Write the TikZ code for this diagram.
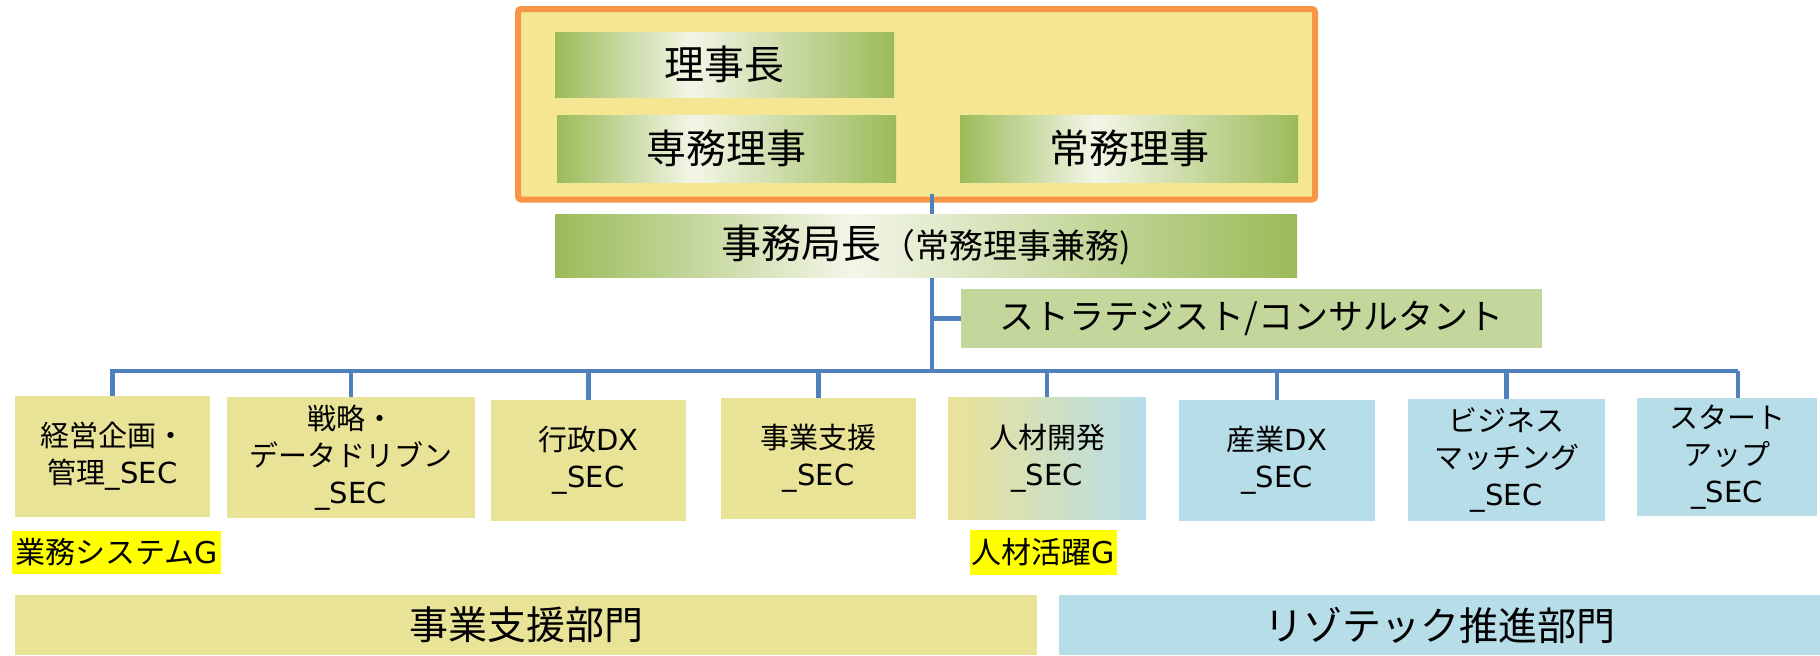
\documentclass[tikz,border=0pt]{standalone}
\usepackage{fontspec}
\setmainfont{Noto Sans CJK JP}
\newfontfamily\lat{DejaVu Sans}
\definecolor{frameY}{HTML}{F5E694}
\definecolor{frameO}{HTML}{F79646}
\definecolor{boxY}{HTML}{E9E397}
\definecolor{boxB}{HTML}{B7DDE8}
\definecolor{stratG}{HTML}{C3D69B}
\definecolor{grn}{HTML}{9BBB59}
\definecolor{gwh}{HTML}{F3F6E8}
\definecolor{lineB}{HTML}{4F81BD}
\definecolor{hiY}{HTML}{FFFF00}
\pgfdeclarehorizontalshading{glow}{100bp}{color(0bp)=(grn); color(25bp)=(grn); color(45bp)=(gwh); color(75bp)=(grn); color(100bp)=(grn)}
\tikzset{
  gbox/.style={shading=glow, inner sep=0pt, font=\fontsize{20}{24}\selectfont},
  secbox/.style={inner sep=0pt, align=center, font=\fontsize{14.5}{18.5}\selectfont},
  ybox/.style={secbox, fill=boxY},
  bbox/.style={secbox, fill=boxB},
  hilite/.style={fill=hiY, inner sep=0pt, font=\fontsize{15}{18}\selectfont},
  bar/.style={inner sep=0pt, font=\fontsize{19.5}{23}\selectfont},
  conn/.style={draw=lineB, line width=2.4pt},
}
\begin{document}
\begin{tikzpicture}[x=0.5pt, y=-0.5pt]
\useasboundingbox (0,0) rectangle (1820,655);
% frame
\node[draw=frameO, fill=frameY, line width=3pt, rounded corners=1.5pt, minimum width=398.5pt, minimum height=95.25pt, inner sep=0pt] (frame) at (916.5,104.25) {};
% connectors
\coordinate (vtop) at (932,194);
\coordinate (busL) at (110,371);
\coordinate (busR) at (1738,371);
\draw[conn] (vtop) -- (vtop |- busL);
\draw[conn] (busL) -- (busR);
% top boxes
\node[gbox, minimum width=169.5pt, minimum height=32.5pt] (rijicho) at (724.5,64.5) {理事長};
\node[gbox, minimum width=169.5pt, minimum height=33.5pt] (senmu) at (726.5,148.5) {専務理事};
\node[gbox, minimum width=169pt, minimum height=33.5pt] (jomu) at (1129,148.5) {常務理事};
\node[gbox, minimum width=371pt, minimum height=31.5pt] (kyokucho) at (926,245.5) {事務局長{\fontsize{17}{20}\selectfont（常務理事兼務)}};
\node[fill=stratG, inner sep=0pt, minimum width=290.5pt, minimum height=29.5pt, font=\fontsize{17.5}{21}\selectfont] (strat) at (1251.5,318.5) {ストラテジスト/コンサルタント};
\draw[conn] (vtop |- strat.west) -- (strat.west);
% sections
\node[ybox, minimum width=97.5pt, minimum height=60.5pt] (s1) at (112.5,456.5) {経営企画・\\管理{\lat\_SEC}};
\node[ybox, minimum width=124pt, minimum height=60.5pt] (s2) at (351,457.5) {戦略・\\データドリブン\\{\lat\_SEC}};
\node[ybox, minimum width=97.5pt, minimum height=60.5pt] (s3) at (588.5,460.5) {行政{\lat DX}\\{\lat\_SEC}};
\node[ybox, minimum width=97.5pt, minimum height=60.5pt] (s4) at (818.5,458.5) {事業支援\\{\lat\_SEC}};
\node[secbox, left color=boxY, right color=boxB, minimum width=99pt, minimum height=61pt] (s5) at (1047,458) {人材開発\\{\lat\_SEC}};
\node[bbox, minimum width=98pt, minimum height=60.5pt] (s6) at (1277,460.5) {産業{\lat DX}\\{\lat\_SEC}};
\node[bbox, minimum width=98.5pt, minimum height=61pt] (s7) at (1506.5,460) {ビジネス\\マッチング\\{\lat\_SEC}};
\node[bbox, minimum width=90pt, minimum height=59pt] (s8) at (1727,457) {スタート\\アップ\\{\lat\_SEC}};
\foreach \n in {s1,s2,s3,s4,s5,s6,s7}
  \draw[conn] (\n.north) -- (\n.north |- busL);
\draw[conn] (busR) -- (busR |- s8.north);
% highlights
\node[hilite, minimum width=104.5pt, minimum height=21.5pt] (g1) at (116.5,552.5) {業務システム{\lat G}};
\node[hilite, minimum width=73.5pt, minimum height=22.5pt] (g2) at (1043.5,552.5) {人材活躍{\lat G}};
% bottom bars
\node[bar, fill=boxY, minimum width=511pt, minimum height=30pt] (dept1) at (526,625) {事業支援部門};
\node[bar, fill=boxB, minimum width=380.5pt, minimum height=30pt] (dept2) at (1439.5,625) {リゾテック推進部門};
\end{tikzpicture}
\end{document}
